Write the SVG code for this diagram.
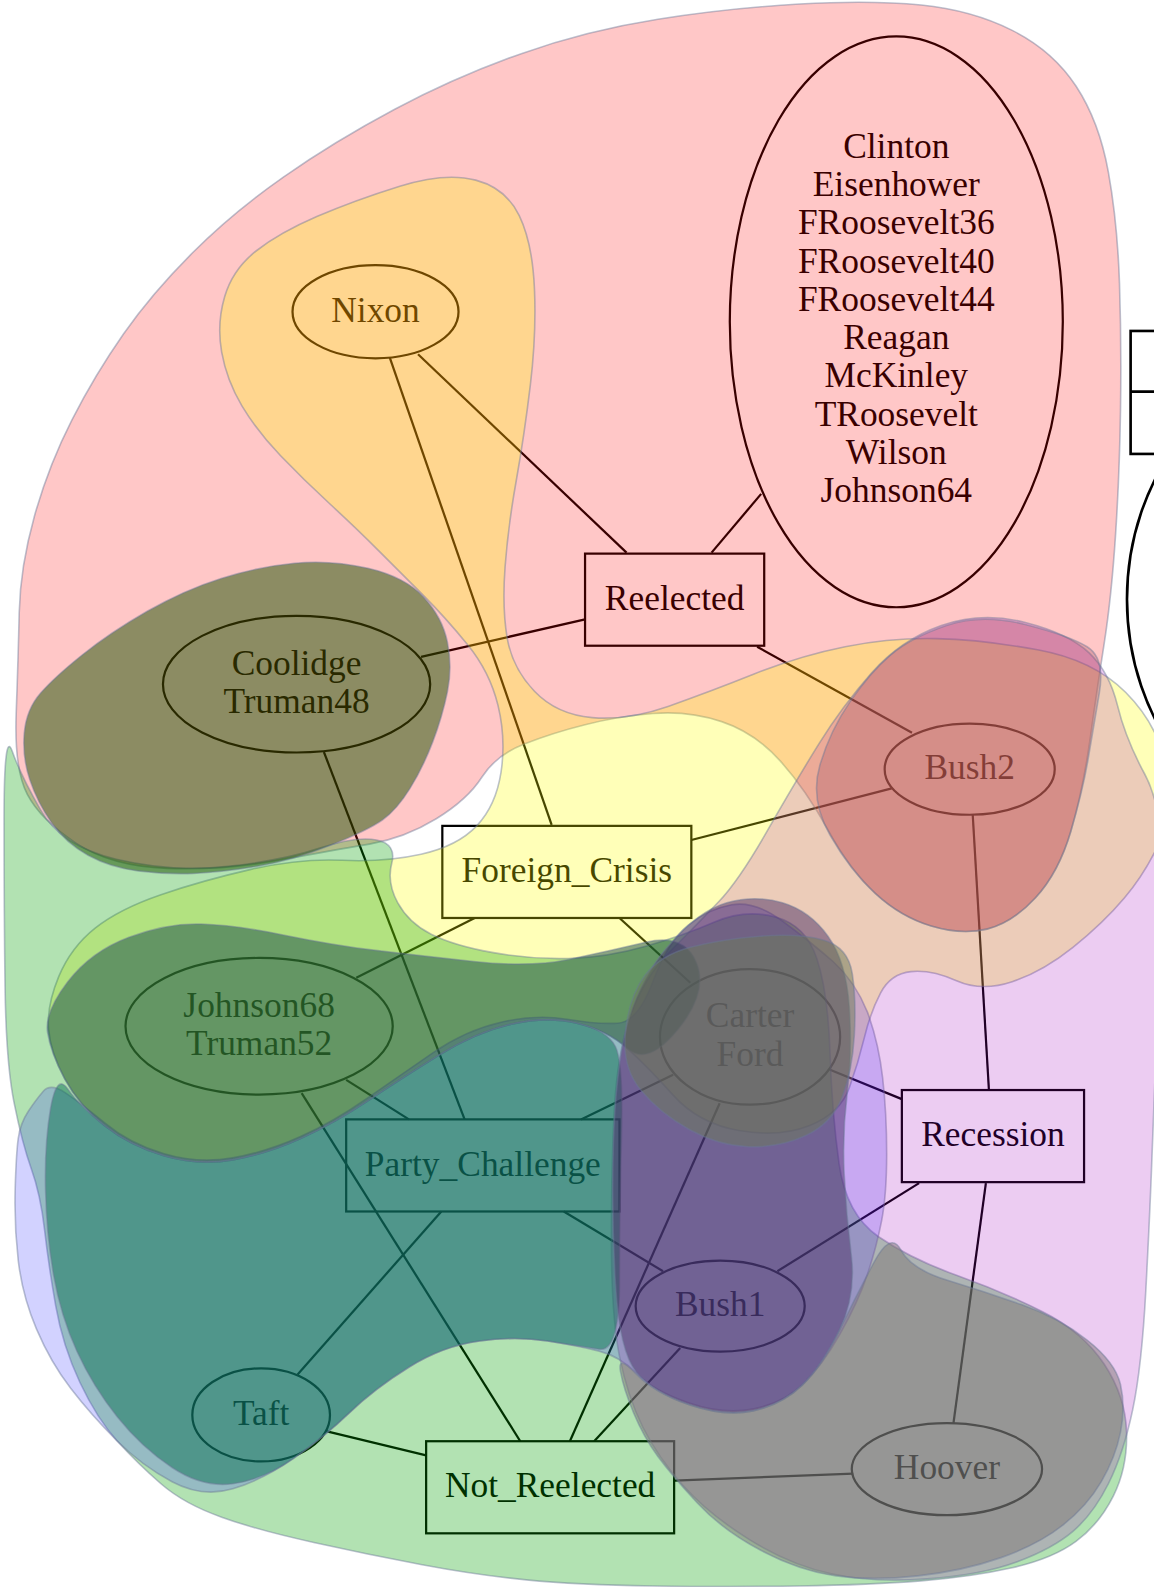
<svg xmlns="http://www.w3.org/2000/svg" width="1154" height="1587" viewBox="0 0 1154 1587">
<style>
.ln{stroke:#000;stroke-width:2.2;fill:none}
.nd{stroke:#000;stroke-width:2.2;fill:none}
.cut{stroke:#000;stroke-width:2.6;fill:none}
.tx{font-family:"Liberation Serif","Times New Roman",serif;font-size:35px;fill:#000;text-anchor:middle}
.blob{stroke:#6a7896;stroke-opacity:.45;stroke-width:1.6}
</style>
<rect width="1154" height="1587" fill="#fff"/>
<g transform="scale(1.0122,1.0121)">
<g id="connectors">
<line class="ln" x1="413" y1="350" x2="619" y2="546"/>
<line class="ln" x1="385" y1="353" x2="545" y2="815"/>
<line class="ln" x1="752" y1="488" x2="703" y2="546"/>
<line class="ln" x1="578" y1="612" x2="416" y2="649"/>
<line class="ln" x1="748" y1="639" x2="901" y2="724"/>
<line class="ln" x1="683" y1="830" x2="881" y2="779"/>
<line class="ln" x1="320" y1="743" x2="459" y2="1106"/>
<line class="ln" x1="469" y1="907" x2="352" y2="966"/>
<line class="ln" x1="612" y1="907" x2="682" y2="971"/>
<line class="ln" x1="342" y1="1067" x2="404" y2="1106"/>
<line class="ln" x1="298" y1="1080" x2="514" y2="1424"/>
<line class="ln" x1="665" y1="1062" x2="574" y2="1106"/>
<line class="ln" x1="820" y1="1057" x2="891" y2="1086"/>
<line class="ln" x1="711" y1="1090" x2="563" y2="1424"/>
<line class="ln" x1="961" y1="805" x2="977" y2="1077"/>
<line class="ln" x1="557" y1="1197" x2="655" y2="1256"/>
<line class="ln" x1="436" y1="1197" x2="294" y2="1358"/>
<line class="ln" x1="908" y1="1169" x2="768" y2="1256"/>
<line class="ln" x1="974" y1="1169" x2="942" y2="1406"/>
<line class="ln" x1="672" y1="1332" x2="587" y2="1424"/>
<line class="ln" x1="322" y1="1414" x2="421" y2="1438"/>
<line class="ln" x1="666" y1="1463" x2="843" y2="1456"/>
</g>
<g id="node-clinton-group"><ellipse class="nd" cx="885.5" cy="318" rx="164.5" ry="282"/>
<text class="tx"><tspan x="885.5" y="156">Clinton</tspan><tspan x="885.5" y="193.8">Eisenhower</tspan><tspan x="885.5" y="231.6">FRoosevelt36</tspan><tspan x="885.5" y="269.4">FRoosevelt40</tspan><tspan x="885.5" y="307.2">FRoosevelt44</tspan><tspan x="885.5" y="345">Reagan</tspan><tspan x="885.5" y="382.8">McKinley</tspan><tspan x="885.5" y="420.6">TRoosevelt</tspan><tspan x="885.5" y="458.4">Wilson</tspan><tspan x="885.5" y="496.2">Johnson64</tspan></text></g>
<g id="node-nixon"><ellipse class="nd" cx="371" cy="308" rx="82" ry="46"/><text class="tx" x="371" y="318">Nixon</text></g>
<g id="node-reelected"><rect class="nd" x="578" y="547" width="177" height="91"/><text class="tx" x="666.5" y="602.5">Reelected</text></g>
<g id="node-coolidge-truman48"><ellipse class="nd" cx="293" cy="676" rx="132" ry="67.5"/><text class="tx"><tspan x="293" y="666.5">Coolidge</tspan><tspan x="293" y="704.3">Truman48</tspan></text></g>
<g id="node-bush2"><ellipse class="nd" cx="958" cy="760" rx="84" ry="45"/><text class="tx" x="958" y="770">Bush2</text></g>
<g id="node-foreign-crisis"><rect class="nd" x="437" y="816" width="246" height="91"/><text class="tx" x="560" y="871.5">Foreign_Crisis</text></g>
<g id="node-johnson68-truman52"><ellipse class="nd" cx="256" cy="1014" rx="132" ry="67.5"/><text class="tx"><tspan x="256" y="1004.5">Johnson68</tspan><tspan x="256" y="1042.3">Truman52</tspan></text></g>
<g id="node-carter-ford"><ellipse class="nd" cx="741" cy="1024.5" rx="89" ry="67"/><text class="tx"><tspan x="741" y="1015">Carter</tspan><tspan x="741" y="1052.8">Ford</tspan></text></g>
<g id="node-party-challenge"><rect class="nd" x="342" y="1106" width="270" height="91"/><text class="tx" x="477" y="1161.5">Party_Challenge</text></g>
<g id="node-recession"><rect class="nd" x="891" y="1077" width="180" height="91"/><text class="tx" x="981" y="1132.5">Recession</text></g>
<g id="node-bush1"><ellipse class="nd" cx="711.5" cy="1290.5" rx="83.5" ry="45"/><text class="tx" x="711.5" y="1300.5">Bush1</text></g>
<g id="node-taft"><ellipse class="nd" cx="258" cy="1398" rx="68" ry="46"/><text class="tx" x="258" y="1408">Taft</text></g>
<g id="node-not-reelected"><rect class="nd" x="421" y="1424" width="245" height="91"/><text class="tx" x="543.5" y="1479.5">Not_Reelected</text></g>
<g id="node-hoover"><ellipse class="nd" cx="935.5" cy="1451.5" rx="94" ry="45.5"/><text class="tx" x="935.5" y="1461.5">Hoover</text></g>
<g id="node-record-edge"><rect class="cut" x="1117" y="327" width="100" height="121.5"/><line class="cut" x1="1117" y1="387" x2="1217" y2="387"/></g>
<g id="node-ellipse-edge"><ellipse class="cut" cx="1313.4" cy="592" rx="200" ry="233"/></g>

<g id="regions">
<path id="set-reelected" class="blob" fill="#ff0000" fill-opacity=".22" d="M16,705 Q18,650 19,605 Q20,560 34,510 Q48,460 71,415 Q94,370 122,330 Q150,290 190,250 Q230,210 280,175 Q330,140 390,108 Q450,76 515,53 Q580,30 650,19 Q720,8 790,4 Q860,0 910,5 Q960,10 1000,30 Q1040,50 1063,85 Q1086,120 1095,170 Q1104,220 1106,280 Q1108,340 1107,405 Q1106,470 1102,530 Q1098,590 1091,635 Q1084,680 1077,730 Q1070,780 1058,821 Q1046,862 1023,887 Q1000,912 975,918 Q950,924 920,915 Q890,906 865,883 Q840,860 818,820 Q796,780 771,752 Q746,724 713,713 Q680,702 645,705 Q610,708 578,716 Q546,724 518,735 Q490,746 476,768 Q462,790 431,809 Q400,828 365,834 Q330,840 275,850 Q220,860 165,858 Q110,856 75,833 Q40,810 27,785 Q14,760 16,705 Z"/>
<path id="set-foreign-crisis" class="blob" fill="#ffff00" fill-opacity=".28" d="M395,184 Q440,170 470,178 Q500,186 513,213 Q526,240 528,285 Q530,330 524,380 Q518,430 510,475 Q502,520 499,560 Q496,600 501,630 Q506,660 528,683 Q550,706 585,709 Q620,712 660,698 Q700,684 745,666 Q790,648 835,639 Q880,630 925,631 Q970,632 1025,642 Q1080,652 1112,684 Q1144,716 1152,758 Q1160,800 1146,831 Q1132,862 1111,887 Q1090,912 1060,936 Q1030,960 1000,970 Q970,980 945,969 Q920,958 900,960 Q880,962 870,981 Q860,1000 854,1025 Q848,1050 839,1075 Q830,1100 800,1112 Q770,1124 730,1117 Q690,1110 665,1082 Q640,1054 620,1036 Q600,1018 570,1011 Q540,1004 505,1012 Q470,1020 433,1043 Q396,1066 363,1088 Q330,1110 297,1125 Q264,1140 230,1146 Q196,1152 162,1142 Q128,1132 103,1112 Q78,1092 64,1066 Q50,1040 48,1017 Q46,994 58,965 Q70,936 94,917 Q118,898 159,884 Q200,870 248,859 Q296,848 338,850 Q380,852 416,844 Q452,836 471,816 Q490,796 495,763 Q500,730 492,697 Q484,664 462,637 Q440,610 418,588 Q396,566 374,544 Q352,522 326,498 Q300,474 277,450 Q254,426 239,401 Q224,376 219,348 Q214,320 222,293 Q230,266 253,248 Q276,230 313,214 Q350,198 395,184 Z"/>
<path id="set-not-reelected" class="blob" fill="#00a000" fill-opacity=".30" d="M4,810 Q4,720 12,742 Q20,765 40,800 Q60,836 115,849 Q170,862 225,856 Q280,850 316,838 Q352,826 372,830 Q392,834 387,853 Q382,872 393,892 Q404,912 426,923 Q448,934 486,941 Q524,948 562,947 Q600,946 638,935 Q676,924 706,911 Q736,898 766,906 Q796,914 807,947 Q818,980 820,1040 Q822,1100 829,1150 Q836,1200 868,1222 Q900,1244 945,1260 Q990,1276 1030,1296 Q1070,1316 1091,1348 Q1112,1380 1113,1415 Q1114,1450 1100,1478 Q1086,1506 1063,1523 Q1040,1540 1000,1549 Q960,1558 910,1562 Q860,1566 790,1567 Q720,1568 645,1567 Q570,1566 520,1561 Q470,1556 417,1546 Q364,1536 310,1524 Q255,1512 219,1499 Q182,1486 159,1466 Q136,1446 116,1424 Q96,1402 79,1366 Q62,1330 55,1290 Q48,1250 44,1215 Q40,1180 31,1155 Q22,1130 14,1090 Q6,1050 5,975 Q4,900 4,810 Z"/>
<path id="set-party-challenge" class="blob" fill="#3030ff" fill-opacity=".22" d="M18,1125 Q16,1140 15,1175 Q14,1210 18,1245 Q22,1280 36,1313 Q50,1346 70,1372 Q90,1398 115,1423 Q140,1448 170,1464 Q200,1480 230,1471 Q260,1462 290,1441 Q320,1420 345,1396 Q370,1372 404,1351 Q437,1330 474,1325 Q510,1320 541,1325 Q572,1330 592,1335 Q612,1340 629,1357 Q645,1374 680,1386 Q715,1398 745,1392 Q774,1386 793,1368 Q812,1350 830,1318 Q848,1286 857,1259 Q866,1232 871,1206 Q876,1180 876,1140 Q876,1100 872,1065 Q868,1030 857,1000 Q845,970 823,950 Q800,930 773,910 Q746,890 723,894 Q700,898 680,914 Q660,930 645,970 Q630,1010 610,1011 Q590,1012 560,1007 Q530,1002 495,1010 Q460,1018 428,1040 Q396,1062 363,1085 Q330,1108 297,1123 Q264,1138 230,1144 Q196,1150 162,1140 Q128,1130 104,1110 Q80,1090 65,1080 Q50,1070 43,1078 Q36,1086 28,1098 Q20,1110 18,1125 Z"/>
<path id="set-recession" class="blob" fill="#a000c0" fill-opacity=".20" d="M930,618 Q970,604 1013,615 Q1056,626 1076,645 Q1096,664 1104,697 Q1112,730 1131,765 Q1150,800 1148,870 Q1146,940 1143,1015 Q1140,1090 1138,1145 Q1136,1200 1132,1275 Q1128,1350 1119,1393 Q1110,1436 1095,1466 Q1080,1496 1060,1513 Q1040,1530 1005,1543 Q970,1556 916,1560 Q862,1564 821,1555 Q780,1546 740,1521 Q700,1496 675,1468 Q650,1440 635,1410 Q620,1380 612,1340 Q604,1300 604,1225 Q604,1150 607,1095 Q610,1040 623,1003 Q636,966 663,939 Q690,912 710,891 Q730,870 758,821 Q786,772 809,735 Q832,698 861,665 Q890,632 930,618 Z"/>
<path id="tint-bush2" class="blob" fill="#a04b64" fill-opacity=".3" d="M935,618 Q970,606 1013,617 Q1056,628 1074,639 Q1092,650 1086,685 Q1080,720 1075,750 Q1070,780 1058,821 Q1046,862 1023,887 Q1000,912 975,918 Q950,924 920,915 Q890,906 865,883 Q840,860 820,825 Q800,790 810,756 Q820,722 840,693 Q860,664 880,647 Q900,630 935,618 Z"/>
<path id="tint-coolidge" class="blob" fill="#195100" fill-opacity=".5" d="M291,556.5 Q327,553 363.5,561.5 Q400,570 418.5,590 Q437,610 442,634.5 Q447,659 442,683.5 Q437,708 427.5,733 Q418,758 405,779 Q392,800 378,810 Q364,820 327,835 Q290,850 254,856 Q218,862 191,863 Q164,864 136.5,860.5 Q109,857 87,845 Q65,833 51,813 Q37,793 29.5,770.5 Q22,748 24,724.5 Q26,701 40,685 Q54,669 81.5,647 Q109,625 145.5,604 Q182,583 218.5,571.5 Q255,560 291,556.5 Z"/>
<path id="tint-johnson" class="blob" fill="#154a47" fill-opacity=".5" d="M47,1020 Q44,1000 67,970 Q90,940 127.5,926 Q165,912 198.5,913 Q232,914 281,924 Q330,934 371,939 Q412,944 468,950 Q524,956 562,948 Q600,940 638,931 Q676,922 688,951 Q700,980 670,1017 Q640,1054 620,1036 Q600,1018 570,1011 Q540,1004 505,1012 Q470,1020 433,1043 Q396,1066 363,1088 Q330,1110 297,1125 Q264,1140 230,1146 Q196,1152 162,1142 Q128,1132 103,1112 Q78,1092 64,1066 Q50,1040 47,1020 Z"/>
<path id="tint-taft" class="blob" fill="#0a7154" fill-opacity=".5" d="M67,1076 Q56,1060 50,1095 Q44,1130 45,1175 Q46,1220 53,1260 Q60,1300 76,1335 Q92,1370 116,1400 Q140,1430 170,1450 Q200,1470 230,1466 Q260,1462 290,1441 Q320,1420 345,1396 Q370,1372 403.5,1351 Q437,1330 473.5,1325 Q510,1320 541,1325 Q572,1330 592,1333 Q612,1336 612,1268 Q612,1200 614,1125 Q616,1050 608,1034 Q600,1018 570,1011 Q540,1004 505,1012 Q470,1020 433,1043 Q396,1066 363,1088 Q330,1110 297,1125 Q264,1140 230,1146 Q196,1152 162,1142 Q128,1132 103,1112 Q78,1092 67,1076 Z"/>
<path id="tint-bush1" class="blob" fill="#493066" fill-opacity=".5" d="M718,892 Q746,884 773,892 Q800,900 818,925 Q836,950 839,995 Q842,1040 837,1080 Q832,1120 834,1160 Q836,1200 841,1240 Q846,1280 829,1315 Q812,1350 792,1369 Q772,1388 744,1394 Q716,1400 681,1388 Q646,1376 629,1356 Q612,1336 608,1268 Q604,1200 606,1130 Q608,1060 619,1015 Q630,970 660,935 Q690,900 718,892 Z"/>
<path id="tint-carter" class="blob" fill="#6c7958" fill-opacity=".5" d="M633,1077 Q614,1054 618,1019 Q622,984 637,964 Q652,944 682,936 Q712,928 751,925 Q790,922 814,929 Q838,936 842,962 Q846,988 844,1023 Q842,1058 832,1084 Q822,1110 796,1122 Q770,1134 740,1133 Q710,1132 681,1116 Q652,1100 633,1077 Z"/>
<path id="tint-hoover" class="blob" fill="#7d7776" fill-opacity=".5" d="M863,1248 Q880,1216 890,1235 Q900,1254 936,1265 Q972,1276 1009,1289 Q1046,1302 1074,1324 Q1102,1346 1107,1368 Q1112,1390 1107,1415 Q1102,1440 1088,1464 Q1074,1488 1050,1507 Q1026,1526 989,1539 Q952,1552 907,1557 Q862,1562 826,1557 Q790,1552 752,1532 Q714,1512 689,1485 Q664,1458 650,1439 Q636,1420 626,1396 Q616,1372 613,1355 Q610,1338 628,1357 Q646,1376 681,1388 Q716,1400 744,1394 Q772,1388 792,1369 Q812,1350 829,1315 Q846,1280 863,1248 Z"/>
</g>
</g>
</svg>
